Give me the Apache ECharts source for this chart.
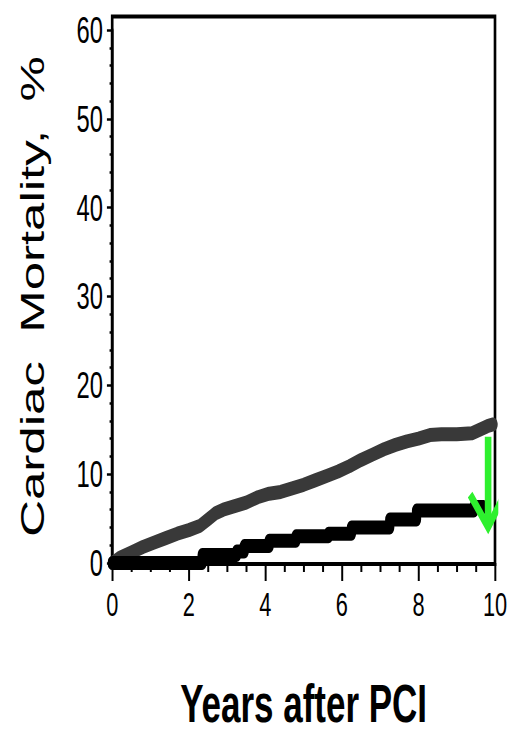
<!DOCTYPE html>
<html>
<head>
<meta charset="utf-8">
<script src="https://cdn.jsdelivr.net/npm/echarts@6/dist/echarts.min.js"></script>
<style>
  html, body { margin: 0; padding: 0; background: #fff; overflow: hidden; }
  #wrap { width: 510px; height: 736px; overflow: hidden; position: relative; }
  /* the figure is drawn wide, then narrowed horizontally */
  #chart { width: 773px; height: 736px; transform: scaleX(0.66); transform-origin: 0 0; }
</style>
</head>
<body>
<div id="wrap"><div id="chart"></div></div>
<script>
// Axis ticks
const xTickValues = [0, 2, 4, 6, 8, 10];
const yTickValues = [0, 10, 20, 30, 40, 50, 60];

// Upper (grey) cumulative curve: years after PCI and cardiac mortality, %
const upperYears = [0, 0.2, 0.5, 0.8, 1.1, 1.4, 1.7, 2.0, 2.3, 2.5, 2.7, 2.9, 3.2, 3.5, 3.8, 4.1, 4.4, 4.7, 5.0, 5.3, 5.6, 5.9, 6.2, 6.5, 6.8, 7.1, 7.4, 7.7, 8.0, 8.3, 8.6, 9.0, 9.4, 9.6, 9.8, 9.95];
const upperMortality = [0, 0.6, 1.2, 1.8, 2.3, 2.8, 3.3, 3.7, 4.2, 4.9, 5.6, 6.0, 6.4, 6.8, 7.4, 7.8, 8.0, 8.4, 8.8, 9.3, 9.8, 10.3, 10.9, 11.6, 12.2, 12.8, 13.3, 13.7, 14.0, 14.4, 14.5, 14.5, 14.6, 15.0, 15.4, 15.6];

// Lower (black) cumulative curve
const lowerYears = [0, 2.35, 3.25, 3.45, 4.1, 4.8, 5.65, 6.25, 7.25, 7.95, 9.45, 9.7];
const lowerMortality = [0, 0.9, 1.3, 1.9, 2.5, 3.0, 3.3, 4.0, 4.9, 5.9, 6.3, 6.3];

// Green arrow at 10 years: shaft and open head, as [years, %]
const arrowShaft = [[9.82, 14.2], [9.82, 4.3]];
const arrowHead = [[9.35, 7.7], [9.82, 4.05], [10.25, 7.7]];

const FONT = "'Liberation Sans', Arial, Helvetica, sans-serif";

function pairs(xs, ys) {
  return xs.map((x, i) => [x, ys[i]]);
}

const chart = echarts.init(document.getElementById('chart'), null, { renderer: 'svg' });

chart.setOption({
  backgroundColor: '#fff',
  animation: false,
  grid: [
    // outer frame of the plot
    { left: 170, right: 23, top: 16.5, bottom: 172, show: true, borderColor: '#000', borderWidth: 4, backgroundColor: 'transparent' },
    // plotting area 0–60 %
    { left: 170, right: 23, top: 30, bottom: 172 }
  ],
  xAxis: [
    { gridIndex: 0, type: 'value', show: false, min: 0, max: 1 },
    {
      gridIndex: 1, type: 'value',
      min: xTickValues[0], max: xTickValues[xTickValues.length - 1],
      interval: xTickValues[1] - xTickValues[0],
      name: 'Years after PCI', nameLocation: 'middle', nameGap: 114,
      nameTextStyle: { fontFamily: FONT, fontSize: 53, fontWeight: 'bold', color: '#000', lineHeight: 54 },
      axisLine: { show: true, lineStyle: { color: '#000', width: 3 } },
      axisTick: { show: true, inside: false, length: 18, lineStyle: { color: '#000', width: 3 } },
      minorTick: { show: true, splitNumber: 4, length: 9, lineStyle: { color: '#000', width: 3 } },
      splitLine: { show: false },
      minorSplitLine: { show: false },
      axisLabel: { margin: 25, fontFamily: FONT, fontSize: 33, color: '#000', lineHeight: 33,
        formatter: v => (xTickValues.indexOf(v) >= 0 ? String(v) : '') }
    }
  ],
  yAxis: [
    { gridIndex: 0, type: 'value', show: false, min: 0, max: 1 },
    {
      gridIndex: 1, type: 'value',
      min: yTickValues[0], max: yTickValues[yTickValues.length - 1],
      interval: yTickValues[1] - yTickValues[0],
      name: 'Cardiac  Mortality,  %', nameLocation: 'middle', nameGap: 95,
      nameTextStyle: { fontFamily: FONT, fontSize: 51, color: '#000', lineHeight: 52 },
      axisLine: { show: true, lineStyle: { color: '#000', width: 4 } },
      axisTick: { show: true, inside: false, length: 8, lineStyle: { color: '#000', width: 2.5 } },
      minorTick: { show: true, splitNumber: 5, length: 4, lineStyle: { color: '#000', width: 2.5 } },
      splitLine: { show: false },
      minorSplitLine: { show: false },
      axisLabel: { margin: 14, fontFamily: FONT, fontSize: 36, color: '#000',
        formatter: v => (yTickValues.indexOf(v) >= 0 ? String(v) : '') }
    }
  ],
  series: [
    {
      type: 'line', xAxisIndex: 1, yAxisIndex: 1,
      data: pairs(upperYears, upperMortality),
      symbol: 'none', clip: false, z: 3,
      lineStyle: { color: '#393939', width: 14, cap: 'round', join: 'round' }
    },
    {
      type: 'line', xAxisIndex: 1, yAxisIndex: 1,
      data: pairs(lowerYears, lowerMortality),
      step: 'end', symbol: 'none', clip: false, z: 4,
      lineStyle: { color: '#000', width: 14, cap: 'round', join: 'round' }
    },
    {
      type: 'line', xAxisIndex: 1, yAxisIndex: 1,
      data: arrowShaft,
      symbol: 'none', clip: false, z: 5,
      lineStyle: { color: '#2ef02e', width: 10, cap: 'butt' }
    },
    {
      type: 'line', xAxisIndex: 1, yAxisIndex: 1,
      data: arrowHead,
      symbol: 'none', clip: false, z: 5,
      lineStyle: { color: '#2ef02e', width: 9, cap: 'butt', join: 'miter' }
    }
  ]
});
</script>
</body>
</html>
